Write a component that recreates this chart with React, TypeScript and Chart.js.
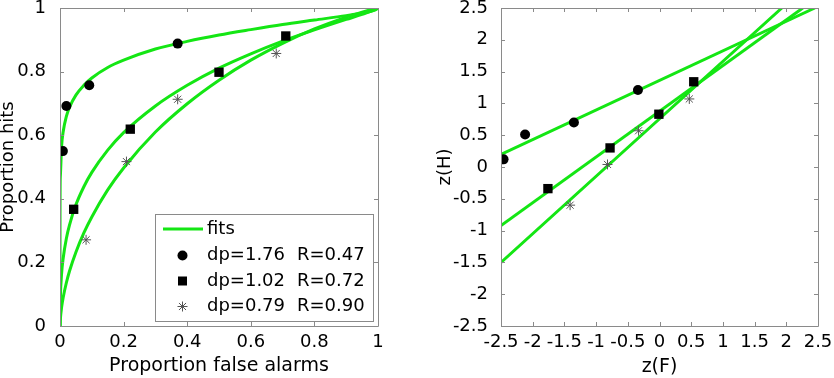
import React, { useEffect, useRef } from 'react';
import { Chart, registerables } from 'chart.js';
Chart.register(...registerables);

const FONT = '"DejaVu Sans", "Liberation Sans", Arial, sans-serif';
const GREEN = '#14e614';
const BOX = '#8a8a8a';

// ROC panel data
const rocF = [0, 0.0001, 0.001, 0.005, 0.01, 0.02, 0.03, 0.05, 0.075, 0.1, 0.15, 0.2, 0.3, 0.4, 0.5, 0.6, 0.7, 0.8, 0.9, 0.95, 0.99, 1];
const fit1H = [0, 0.355, 0.469, 0.565, 0.611, 0.659, 0.688, 0.726, 0.757, 0.78, 0.813, 0.836, 0.871, 0.895, 0.915, 0.932, 0.948, 0.962, 0.976, 0.984, 0.993, 1];
const fit2H = [0, 0.036, 0.089, 0.165, 0.213, 0.275, 0.318, 0.381, 0.438, 0.483, 0.553, 0.608, 0.692, 0.757, 0.811, 0.856, 0.896, 0.931, 0.964, 0.98, 0.9947, 1];
const fit3H = [0, 0.0047, 0.0211, 0.0584, 0.0896, 0.136, 0.173, 0.232, 0.2925, 0.343, 0.428, 0.497, 0.61, 0.699, 0.773, 0.836, 0.889, 0.934, 0.9715, 0.987, 0.9978, 1];

const circleF = [0.009, 0.02, 0.092, 0.37];
const circleH = [0.55, 0.692, 0.757, 0.888];
const squareF = [0.043, 0.221, 0.5, 0.71];
const squareH = [0.367, 0.619, 0.798, 0.912];
const starF = [0.082, 0.209, 0.37, 0.68];
const starH = [0.271, 0.517, 0.713, 0.857];

// z panel data
const zCircleF = [-2.46, -2.12, -1.35, -0.34];
const zCircleH = [0.12, 0.51, 0.7, 1.21];
const zSquareF = [-1.76, -0.78, -0.01, 0.54];
const zSquareH = [-0.34, 0.3, 0.83, 1.34];
const zStarF = [-1.41, -0.82, -0.33, 0.47];
const zStarH = [-0.6, 0.04, 0.57, 1.07];
const zFit1F = [-2.5, 2.45];
const zFit1H = [0.2, 2.5];
const zFit2F = [-2.5, 2.26];
const zFit2H = [-0.92, 2.5];
const zFit3F = [-2.5, 1.93];
const zFit3H = [-1.5, 2.5];

const legendFit = 'fits';
const legendDp = ['dp=1.76', 'dp=1.02', 'dp=0.79'];
const legendR = ['R=0.47', 'R=0.72', 'R=0.90'];

const pts = (xs: number[], ys: number[]) => xs.map((x, i) => ({ x, y: ys[i] }));
const fmt = (v: any) => String(Number(Number(v).toFixed(2)));

const boxPlugin = {
  id: 'boxTicks',
  afterDraw(chart: any) {
    const { ctx, chartArea: a, scales } = chart;
    ctx.save();
    ctx.strokeStyle = BOX;
    ctx.lineWidth = 1;
    ctx.beginPath();
    ctx.rect(Math.round(a.left) + 0.5, Math.round(a.top) + 0.5, Math.round(a.right - a.left), Math.round(a.bottom - a.top));
    ctx.stroke();
    const L = 4;
    ctx.beginPath();
    scales.x.ticks.forEach((t: any) => {
      const px = Math.round(scales.x.getPixelForValue(t.value)) + 0.5;
      ctx.moveTo(px, a.bottom); ctx.lineTo(px, a.bottom - L);
      ctx.moveTo(px, a.top); ctx.lineTo(px, a.top + L);
    });
    scales.y.ticks.forEach((t: any) => {
      const py = Math.round(scales.y.getPixelForValue(t.value)) + 0.5;
      ctx.moveTo(a.left, py); ctx.lineTo(a.left + L, py);
      ctx.moveTo(a.right, py); ctx.lineTo(a.right - L, py);
    });
    ctx.stroke();
    ctx.restore();
  },
};

const legendPlugin = {
  id: 'rocLegend',
  afterDatasetsDraw(chart: any) {
    const { ctx, chartArea: a } = chart;
    const x0 = 155, y0 = 214, x1 = a.right - 5, y1 = a.bottom - 5;
    ctx.save();
    ctx.fillStyle = '#fff';
    ctx.fillRect(x0, y0, x1 - x0, y1 - y0);
    ctx.strokeStyle = BOX;
    ctx.lineWidth = 1;
    ctx.strokeRect(x0 + 0.5, y0 + 0.5, x1 - x0, y1 - y0);
    const rows = [229, 255.5, 281, 306.5];
    ctx.font = `18px ${FONT}`;
    ctx.fillStyle = '#000';
    ctx.textBaseline = 'middle';
    ctx.textAlign = 'left';
    ctx.strokeStyle = GREEN;
    ctx.lineWidth = 3;
    ctx.beginPath();
    ctx.moveTo(163, rows[0]); ctx.lineTo(203, rows[0]);
    ctx.stroke();
    ctx.fillText(legendFit, 207, rows[0]);
    const mx = 182.5;
    ctx.fillStyle = '#000';
    ctx.beginPath(); ctx.arc(mx, rows[1], 5, 0, Math.PI * 2); ctx.fill();
    ctx.fillRect(mx - 4.5, rows[2] - 4.5, 9, 9);
    ctx.strokeStyle = '#555';
    ctx.lineWidth = 1;
    ctx.beginPath();
    const r = 5, d = r * Math.SQRT1_2;
    ctx.moveTo(mx - r, rows[3]); ctx.lineTo(mx + r, rows[3]);
    ctx.moveTo(mx, rows[3] - r); ctx.lineTo(mx, rows[3] + r);
    ctx.moveTo(mx - d, rows[3] - d); ctx.lineTo(mx + d, rows[3] + d);
    ctx.moveTo(mx - d, rows[3] + d); ctx.lineTo(mx + d, rows[3] - d);
    ctx.stroke();
    ctx.fillStyle = '#000';
    for (let i = 0; i < 3; i++) {
      ctx.fillText(legendDp[i], 207, rows[i + 1]);
      ctx.fillText(legendR[i], 297, rows[i + 1]);
    }
    ctx.restore();
  },
};

const tickFont = { family: FONT, size: 18, lineHeight: 1.2 };

function makeScales(opts: any) {
  return {
    x: {
      type: 'linear', min: opts.xmin, max: opts.xmax,
      ticks: { stepSize: opts.xstep, font: tickFont, color: '#000', padding: opts.xpad, maxRotation: 0, minRotation: 0, autoSkip: false, callback: fmt },
      grid: { display: false }, border: { display: false },
      title: { display: true, text: opts.xtitle, color: '#000', font: { family: FONT, size: opts.xtsize, lineHeight: 1.2 }, padding: { top: 0, bottom: opts.xtpad } },
      afterFit(s: any) { s.height = 52; s.paddingLeft = 0; s.paddingRight = 0; s.paddingTop = 0; s.paddingBottom = 0; },
    },
    y: {
      type: 'linear', min: opts.ymin, max: opts.ymax,
      ticks: { stepSize: opts.ystep, font: tickFont, color: '#000', padding: opts.ypad, autoSkip: false, callback: fmt },
      grid: { display: false }, border: { display: false },
      title: { display: true, text: opts.ytitle, color: '#000', font: { family: FONT, size: 18, lineHeight: opts.ylh }, padding: { top: opts.ytpad, bottom: 0 } },
      afterFit(s: any) { s.width = opts.ywidth; s.paddingLeft = 0; s.paddingRight = 0; s.paddingTop = 0; s.paddingBottom = 0; },
    },
  };
}

const lineDs = (data: any[]) => ({ data, showLine: true, borderColor: GREEN, backgroundColor: GREEN, borderWidth: 3, pointRadius: 0, order: 2, cubicInterpolationMode: 'monotone' });
const circleDs = (data: any[]) => ({ data, showLine: false, pointStyle: 'circle', pointRadius: 5, backgroundColor: '#000', borderColor: '#000', borderWidth: 0, order: 1 });
const squareDs = (data: any[]) => ({ data, showLine: false, pointStyle: 'rect', pointRadius: 6.6, backgroundColor: '#000', borderColor: '#000', borderWidth: 0, order: 1 });
const starDs = (data: any[]) => ({ data, showLine: false, pointStyle: 'star', pointRadius: 5, backgroundColor: '#555', borderColor: '#555', borderWidth: 1, order: 1 });

function Panel({ config, left }: { config: any; left: number }) {
  const ref = useRef<HTMLCanvasElement>(null);
  useEffect(() => {
    const chart = new Chart(ref.current as HTMLCanvasElement, config);
    return () => chart.destroy();
  }, []);
  return (
    <div style={{ position: 'absolute', left, top: 0, width: 417, height: 378 }}>
      <canvas ref={ref} width={417} height={378} style={{ width: 417, height: 378 }} />
    </div>
  );
}

const baseOptions = {
  responsive: false,
  animation: false,
  plugins: { legend: { display: false }, tooltip: { enabled: false } },
};

const rocConfig: any = {
  type: 'scatter',
  data: {
    datasets: [
      circleDs(pts(circleF, circleH)),
      squareDs(pts(squareF, squareH)),
      starDs(pts(starF, starH)),
      lineDs(pts(rocF, fit1H)),
      lineDs(pts(rocF, fit2H)),
      lineDs(pts(rocF, fit3H)),
    ],
  },
  options: {
    ...baseOptions,
    layout: { padding: { left: 0, right: 39, top: 8, bottom: 0 } },
    scales: makeScales({ xmin: 0, xmax: 1, xstep: 0.2, ymin: 0, ymax: 1, ystep: 0.2, xtitle: 'Proportion false alarms', ytitle: 'Proportion hits', xpad: -2, xtsize: 19, xtpad: 1, ypad: 6, ylh: 0.95, ytpad: 0, ywidth: 60 }),
  },
  plugins: [boxPlugin, legendPlugin],
};

const zConfig: any = {
  type: 'scatter',
  data: {
    datasets: [
      circleDs(pts(zCircleF, zCircleH)),
      squareDs(pts(zSquareF, zSquareH)),
      starDs(pts(zStarF, zStarH)),
      lineDs(pts(zFit1F, zFit1H)),
      lineDs(pts(zFit2F, zFit2H)),
      lineDs(pts(zFit3F, zFit3H)),
    ],
  },
  options: {
    ...baseOptions,
    layout: { padding: { left: 0, right: 16, top: 8, bottom: 0 } },
    scales: makeScales({ xmin: -2.5, xmax: 2.5, xstep: 0.5, ymin: -2.5, ymax: 2.5, ystep: 0.5, xtitle: 'z(F)', ytitle: 'z(H)', xpad: -2, xtsize: 19, xtpad: 0, ypad: 5, ylh: 1.2, ytpad: 18, ywidth: 84 }),
  },
  plugins: [boxPlugin],
};

export default function App() {
  return (
    <div style={{ position: 'absolute', left: 0, top: 0, width: 834, height: 378, background: '#fff' }}>
      <Panel config={rocConfig} left={0} />
      <Panel config={zConfig} left={417} />
    </div>
  );
}
